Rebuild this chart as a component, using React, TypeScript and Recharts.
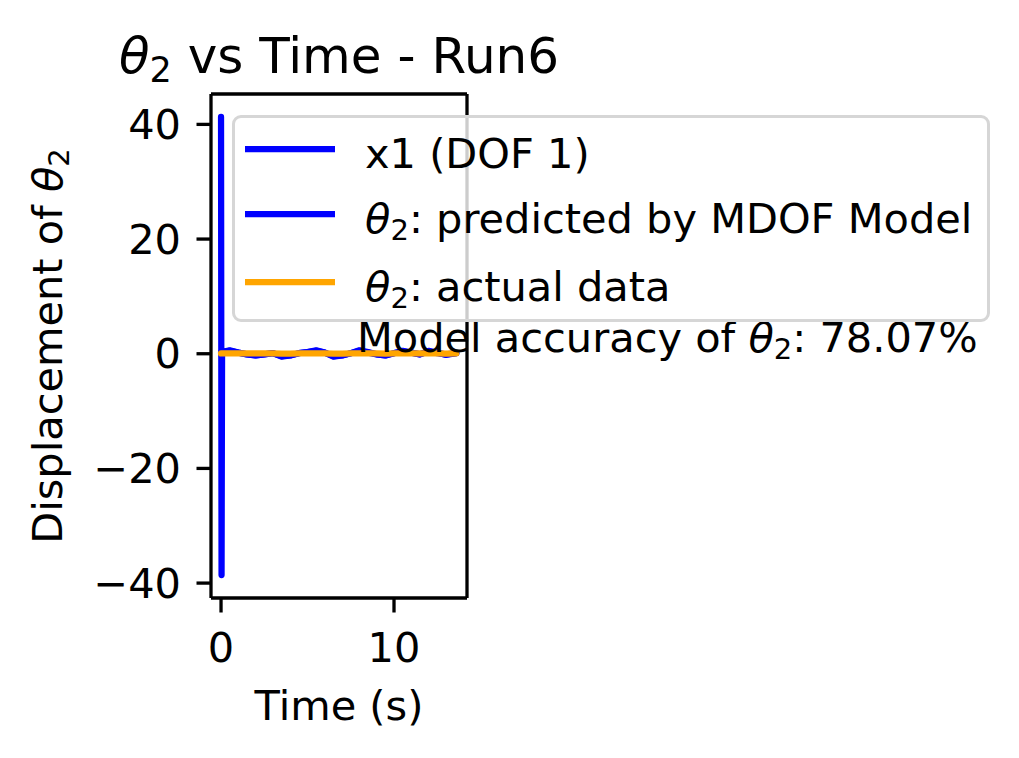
import React from 'react'
import { LineChart, Line, XAxis, YAxis } from 'recharts'

const time = [0, 0.03, 0.06, 0.5, 1, 1.5, 2, 2.5, 3, 3.5, 4, 4.5, 5, 5.5, 6, 6.5, 7, 7.5, 8, 8.5, 9, 9.5, 10, 10.5, 11, 11.5, 12, 12.5, 13, 13.6]
const x1Values = [41.3, -38.6, 0.3, 0.6, 0.2, -0.1, -0.3, -0.1, 0.1, -0.5, -0.3, 0.1, 0.3, 0.6, 0.2, -0.5, -0.3, 0.1, 0.6, 0.3, -0.1, -0.3, 0.1, 0.5, 0.2, -0.1, 0.5, 0.2, -0.2, 0.1]
const predictedValues = [0.2, 0.2, 0.3, 0.5, 0.2, -0.1, -0.3, -0.1, 0.1, -0.4, -0.3, 0.1, 0.3, 0.5, 0.2, -0.4, -0.3, 0.1, 0.5, 0.2, -0.1, -0.3, 0.1, 0.4, 0.2, -0.1, 0.4, 0.1, -0.1, 0.1]
const actualValues = [0.05, 0.05, 0.05, 0.05, 0.05, 0.05, 0.05, 0.05, 0.05, 0.0, 0.0, 0.05, 0.05, 0.05, 0.05, 0.0, 0.0, 0.05, 0.05, 0.05, 0.05, 0.0, 0.05, 0.05, 0.05, 0.05, 0.05, 0.05, 0.0, 0.05]

const xTicks = [0, 10]
const yTicks = [-40, -20, 0, 20, 40]
const xDomain = [-0.58, 14.22]
const yDomain = [-42.6, 45.3]

const FONT = "'DejaVu Sans', sans-serif"
const FS = 41.5
const BLUE = '#0000ff'
const ORANGE = '#ffa500'

const chartData = time.map((t, i) => ({
  t,
  x1: x1Values[i],
  predicted: predictedValues[i],
  actual: actualValues[i]
}))

// mathtext-ish theta with subscript 2
function Theta2() {
  return (
    <span>
      <span style={{ fontStyle: 'italic' }}>θ</span>
      <span style={{ fontSize: '0.7em', position: 'relative', top: '0.25em' }}>2</span>
    </span>
  )
}

const legendRows = [
  { key: 'x1', color: BLUE, y: 31, label: <span>x1 (DOF 1)</span> },
  { key: 'predicted', color: BLUE, y: 96, label: <span><Theta2 />: predicted by MDOF Model</span> },
  { key: 'actual', color: ORANGE, y: 164, label: <span><Theta2 />: actual data</span> }
]

const minusFmt = (v: number) => (v < 0 ? '\u2212' + Math.abs(v) : String(v))

export default function App() {
  const tickStyle = { fill: '#000', fontSize: FS, fontFamily: FONT }
  const text = { position: 'absolute' as const, whiteSpace: 'nowrap' as const, lineHeight: 1, fontFamily: FONT, color: '#000' }
  const spine = { stroke: '#000', strokeWidth: 3.3 }

  return (
    <div style={{ position: 'absolute', left: 0, top: 0, width: 1019, height: 758, background: '#fff', fontFamily: FONT }}>
      <LineChart
        width={1019}
        height={758}
        data={chartData}
        margin={{ top: 93, right: 551, left: 210, bottom: 159 }}
      >
        <XAxis
          dataKey="t"
          type="number"
          domain={xDomain}
          allowDataOverflow
          ticks={xTicks}
          height={1}
          tick={tickStyle}
          tickSize={14.5}
          tickMargin={20}
          tickLine={spine}
          axisLine={spine}
        />
        <XAxis
          xAxisId="top"
          orientation="top"
          dataKey="t"
          type="number"
          domain={xDomain}
          allowDataOverflow
          height={1}
          tick={false}
          tickLine={false}
          axisLine={spine}
        />
        <YAxis
          type="number"
          domain={yDomain}
          allowDataOverflow
          ticks={yTicks}
          width={1}
          tick={tickStyle}
          tickFormatter={minusFmt}
          tickSize={14.5}
          tickMargin={15.5}
          tickLine={spine}
          axisLine={spine}
        />
        <YAxis
          yAxisId="right"
          orientation="right"
          type="number"
          domain={yDomain}
          allowDataOverflow
          width={1}
          tick={false}
          tickLine={false}
          axisLine={spine}
        />
        <Line
          type="linear"
          dataKey="x1"
          stroke={BLUE}
          strokeWidth={6.25}
          strokeLinecap="round"
          strokeLinejoin="round"
          dot={false}
          isAnimationActive={false}
        />
        <Line
          type="linear"
          dataKey="predicted"
          stroke={BLUE}
          strokeWidth={6.25}
          strokeLinecap="round"
          strokeLinejoin="round"
          dot={false}
          isAnimationActive={false}
        />
        <Line
          type="linear"
          dataKey="actual"
          stroke={ORANGE}
          strokeWidth={6.25}
          strokeLinecap="round"
          strokeLinejoin="round"
          dot={false}
          isAnimationActive={false}
        />
      </LineChart>

      {/* title */}
      <div style={{ ...text, fontSize: 50, left: 339, top: 31, transform: 'translateX(-50%)' }}>
        <Theta2 /> vs Time - Run6
      </div>

      {/* x label */}
      <div style={{ ...text, fontSize: FS, left: 339, top: 685, transform: 'translateX(-50%)' }}>
        Time (s)
      </div>

      {/* y label */}
      <div
        style={{
          ...text,
          fontSize: FS,
          left: 48,
          top: 346,
          transform: 'translate(-50%, -50%) rotate(-90deg)'
        }}
      >
        Displacement of <Theta2 />
      </div>

      {/* accuracy annotation */}
      <div style={{ ...text, fontSize: FS, left: 357, top: 317 }}>
        Model accuracy of <Theta2 />: 78.07%
      </div>

      {/* legend */}
      <div
        style={{
          position: 'absolute',
          left: 232,
          top: 115,
          width: 758,
          height: 207,
          boxSizing: 'border-box',
          border: '3px solid #d6d6d6',
          borderRadius: 9,
          background: 'rgba(255,255,255,0.8)'
        }}
      >
        {legendRows.map(row => (
          <React.Fragment key={row.key}>
            <svg style={{ position: 'absolute', left: 9, top: row.y - 5 }} width={92} height={10}>
              <line x1={1} y1={5} x2={91} y2={5} stroke={row.color} strokeWidth={6.25} />
            </svg>
            <div style={{ ...text, fontSize: FS, left: 130, top: row.y + 4 - 0.48 * FS }}>
              {row.label}
            </div>
          </React.Fragment>
        ))}
      </div>
    </div>
  )
}
